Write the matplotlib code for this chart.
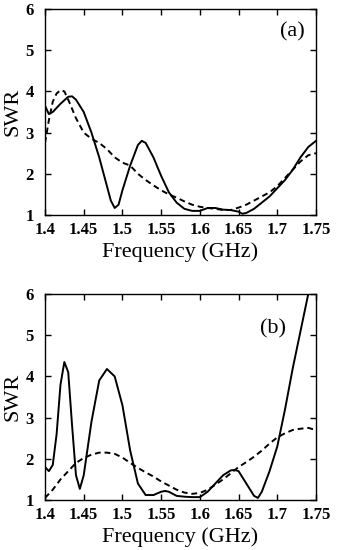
import matplotlib
matplotlib.use("Agg")
import matplotlib.pyplot as plt

freq_a_solid = [1.40, 1.405, 1.41, 1.42, 1.43, 1.435, 1.44, 1.45, 1.46, 1.47, 1.48, 1.485, 1.49, 1.495,
                1.50, 1.51, 1.52, 1.525, 1.53, 1.54, 1.55, 1.56, 1.57, 1.58, 1.59, 1.60, 1.61, 1.62,
                1.63, 1.64, 1.65, 1.655, 1.66, 1.67, 1.68, 1.69, 1.70, 1.71, 1.72, 1.73, 1.74, 1.75]
swr_a_solid = [3.65, 3.45, 3.5, 3.7, 3.87, 3.88, 3.8, 3.5, 3.0, 2.4, 1.7, 1.35, 1.17, 1.25,
               1.6, 2.2, 2.7, 2.8, 2.75, 2.4, 1.95, 1.55, 1.3, 1.15, 1.1, 1.1, 1.17, 1.17,
               1.13, 1.12, 1.08, 1.03, 1.05, 1.15, 1.3, 1.45, 1.65, 1.85, 2.1, 2.4, 2.65, 2.8]

freq_a_dash = [1.40, 1.405, 1.41, 1.415, 1.42, 1.425, 1.43, 1.44, 1.45, 1.46, 1.47, 1.48, 1.49, 1.50,
               1.51, 1.52, 1.53, 1.54, 1.55, 1.56, 1.57, 1.58, 1.59, 1.60, 1.61, 1.62, 1.63, 1.64,
               1.65, 1.66, 1.67, 1.68, 1.69, 1.70, 1.71, 1.72, 1.73, 1.74, 1.75]
swr_a_dash = [2.75, 3.3, 3.75, 3.95, 4.03, 4.0, 3.8, 3.35, 3.0, 2.85, 2.75, 2.6, 2.4, 2.27,
              2.2, 2.0, 1.85, 1.72, 1.6, 1.5, 1.42, 1.33, 1.25, 1.2, 1.17, 1.15, 1.12, 1.12,
              1.18, 1.25, 1.35, 1.45, 1.55, 1.7, 1.9, 2.1, 2.3, 2.45, 2.5]

freq_b_solid = [1.40, 1.405, 1.41, 1.415, 1.42, 1.425, 1.43, 1.435, 1.44, 1.445, 1.45, 1.46, 1.47, 1.48,
                1.49, 1.50, 1.51, 1.52, 1.53, 1.54, 1.55, 1.555, 1.56, 1.57, 1.58, 1.59, 1.60, 1.61,
                1.62, 1.63, 1.64, 1.645, 1.65, 1.66, 1.67, 1.675, 1.68, 1.69, 1.70, 1.71, 1.72, 1.73,
                1.74, 1.75]
swr_b_solid = [1.8, 1.7, 1.85, 2.6, 3.8, 4.35, 4.1, 2.8, 1.6, 1.27, 1.6, 2.9, 3.9, 4.18,
               4.0, 3.3, 2.2, 1.4, 1.12, 1.12, 1.2, 1.22, 1.2, 1.1, 1.08, 1.07, 1.07, 1.2,
               1.4, 1.6, 1.72, 1.73, 1.7, 1.4, 1.1, 1.05, 1.2, 1.7, 2.3, 3.2, 4.2, 5.1,
               6.0, 6.0]

freq_b_dash = [1.40, 1.41, 1.42, 1.43, 1.44, 1.45, 1.46, 1.47, 1.48, 1.49, 1.50, 1.51, 1.52, 1.53,
               1.54, 1.55, 1.56, 1.57, 1.58, 1.59, 1.60, 1.61, 1.62, 1.63, 1.64, 1.65, 1.66, 1.67,
               1.68, 1.69, 1.70, 1.71, 1.72, 1.73, 1.74, 1.75]
swr_b_dash = [1.05, 1.25, 1.5, 1.7, 1.9, 2.02, 2.1, 2.15, 2.15, 2.12, 2.03, 1.9, 1.78, 1.67,
              1.57, 1.45, 1.35, 1.25, 1.18, 1.15, 1.17, 1.25, 1.37, 1.5, 1.65, 1.8, 1.92, 2.05,
              2.2, 2.37, 2.52, 2.62, 2.7, 2.73, 2.75, 2.7]

xticks = [1.4, 1.45, 1.5, 1.55, 1.6, 1.65, 1.7, 1.75]
xtick_labels = ["1.4", "1.45", "1.5", "1.55", "1.6", "1.65", "1.7", "1.75"]
yticks = [1, 2, 3, 4, 5, 6]
panel_labels = ["(a)", "(b)"]

plt.rcParams['font.family'] = ['Liberation Serif', 'DejaVu Serif']

fig = plt.figure(figsize=(3.42, 5.5), dpi=100)
ax1 = fig.add_axes([45/342, 1-215/550, 271/342, 206/550])
ax2 = fig.add_axes([45/342, 1-500/550, 271/342, 206/550])

panels = [
    (ax1, freq_a_solid, swr_a_solid, freq_a_dash, swr_a_dash, (1.72, 5.45)),
    (ax2, freq_b_solid, swr_b_solid, freq_b_dash, swr_b_dash, (1.695, 5.15)),
]
for i, (ax, fs, ss, fd, sd, pos) in enumerate(panels):
    ax.plot(fs, ss, color='black', lw=1.4, solid_joinstyle='round')
    ax.plot(fd, sd, color='black', lw=1.4, linestyle=(0, (3, 2)))
    ax.set_xlim(1.4, 1.75)
    ax.set_ylim(1, 6)
    ax.set_xticks(xticks)
    ax.set_xticklabels(xtick_labels)
    ax.set_yticks(yticks)
    ax.tick_params(direction='in', top=True, right=True, length=4, width=1,
                   labelsize=12)
    ax.tick_params(axis='x', pad=5)
    ax.tick_params(axis='y', pad=8)
    for lab in ax.get_xticklabels() + ax.get_yticklabels():
        lab.set_fontweight('bold')
    for sp in ax.spines.values():
        sp.set_linewidth(1.0)
    ax.set_xlabel("Frequency (GHz)", fontsize=16, labelpad=3)
    ax.set_ylabel("SWR", fontsize=16, labelpad=0)
    ax.yaxis.set_label_coords(-0.082, 0.5)
    ax.text(pos[0], pos[1], panel_labels[i], fontsize=16, ha='center', va='center')

fig.savefig("out.png", dpi=100)
